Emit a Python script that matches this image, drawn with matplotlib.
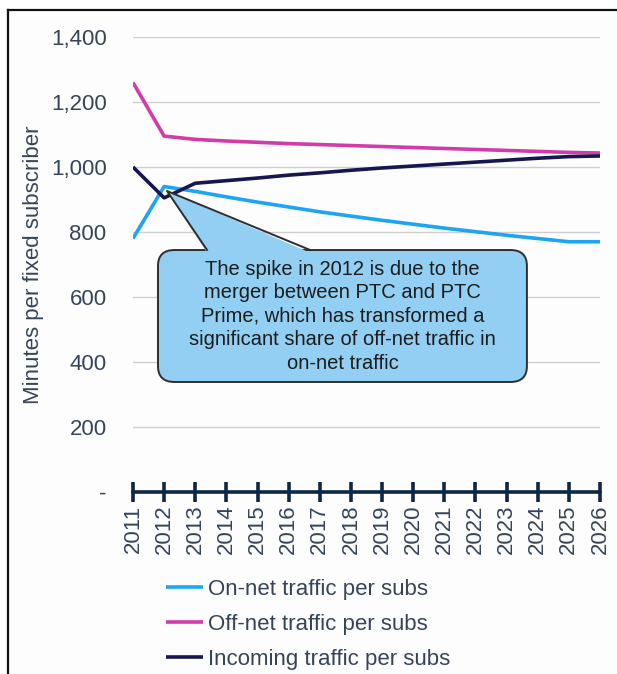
"""Minutes per fixed subscriber, 2011-2026, with the PTC merger callout."""
import matplotlib
matplotlib.use("Agg")
import matplotlib.pyplot as plt
from matplotlib.lines import Line2D
from matplotlib.patches import FancyBboxPatch, Polygon, Rectangle
from matplotlib.ticker import FuncFormatter

years = list(range(2011, 2027))
on_net = [780, 940, 925, 908, 892, 877, 862, 849, 836, 824, 812, 801, 790, 780, 770, 770]
off_net = [1260, 1095, 1085, 1080, 1076, 1072, 1069, 1066, 1063, 1060, 1057, 1054, 1051, 1048, 1045, 1043]
incoming = [1000, 905, 950, 958, 966, 975, 982, 990, 997, 1003, 1009, 1015, 1021, 1027, 1032, 1034]
series_labels = ["On-net traffic per subs", "Off-net traffic per subs", "Incoming traffic per subs"]
series_colors = ["#1ea5f2", "#d23caa", "#17164f"]
y_ticks = [0, 200, 400, 600, 800, 1000, 1200, 1400]
note = ("The spike in 2012 is due to the\nmerger between PTC and PTC\n"
        "Prime, which has transformed a\nsignificant share of off-net traffic in\n"
        "on-net traffic")

TEXT = "#36445a"
AXIS = "#0f2747"
FS = 16

plt.rcParams["font.family"] = ["Liberation Sans", "DejaVu Sans"]

fig = plt.figure(figsize=(6.17, 6.74), dpi=100, facecolor="#fdfdfd")
W, H = 617, 674
ax = fig.add_axes([133 / W, 1 - 492 / H, 467 / W, 455 / H])
ax.set_facecolor("#fdfdfd")

for vals, lab, col in zip([on_net, off_net, incoming], series_labels, series_colors):
    ax.plot(years, vals, color=col, lw=2.6, label=lab, solid_capstyle="butt", zorder=3)

ax.set_xlim(2011, 2026)
ax.set_ylim(0, 1400)
ax.set_yticks(y_ticks)
ax.yaxis.set_major_formatter(FuncFormatter(lambda v, p: "-" if v == 0 else f"{int(v):,}"))
ax.set_xticks(years)
ax.set_xticklabels([str(y) for y in years], rotation=90)

for s in ["top", "right", "left"]:
    ax.spines[s].set_visible(False)
ax.spines["bottom"].set_color(AXIS)
ax.spines["bottom"].set_linewidth(2.6)
ax.spines["bottom"].set_capstyle("round")
ax.tick_params(axis="y", length=0, pad=19, labelsize=FS, labelcolor=TEXT)
ax.tick_params(axis="x", direction="inout", length=14, width=2.6, color=AXIS,
               pad=2, labelsize=FS, labelcolor=TEXT)
for t in ax.xaxis.get_major_ticks():
    t.tick1line.set_clip_on(False)

for y in y_ticks[1:]:
    ax.axhline(y, color="#cfcfcf", lw=1, zorder=1)

ax.set_ylabel("Minutes per fixed subscriber", fontsize=FS, color=TEXT, labelpad=5)

# callout box (axes fraction coords)
box = FancyBboxPatch((0.0535, 0.2418), 0.79, 0.29,
                     boxstyle="round,pad=0,rounding_size=0.035",
                     transform=ax.transAxes, facecolor="#92cff2",
                     edgecolor="#2e2e2e", lw=1.4, zorder=5)
ax.add_patch(box)
tip = (0.0728, 0.6615)
bl = (0.1585, 0.532)
br = (0.379, 0.532)
wedge = Polygon([tip, (bl[0], bl[1] - 0.006), (br[0], br[1] - 0.006)], closed=True,
                transform=ax.transAxes, facecolor="#92cff2", edgecolor="none", zorder=6)
ax.add_patch(wedge)
ax.add_line(Line2D([bl[0], tip[0], br[0]], [bl[1], tip[1], br[1]], transform=ax.transAxes,
                   color="#2e2e2e", lw=1.4, zorder=7))
ax.text(0.4486, 0.386, note, transform=ax.transAxes, ha="center", va="center",
        fontsize=14.5, color="#1c1c1c", linespacing=1.3, zorder=8)

leg = fig.legend(loc="upper left", bbox_to_anchor=(166 / W, 1 - 579 / H), frameon=False,
                 fontsize=FS, handlelength=1.65, handletextpad=0.25, labelspacing=0.62,
                 borderaxespad=0, borderpad=0)
for txt in leg.get_texts():
    txt.set_color(TEXT)

# outer frame
fig.add_artist(Line2D([8 / W, 1], [1 - 10 / H, 1 - 10 / H], transform=fig.transFigure,
                      color="#111111", lw=1.6))
fig.add_artist(Line2D([8 / W, 8 / W], [0, 1 - 10 / H], transform=fig.transFigure,
                      color="#111111", lw=1.6))
fig.patches.append(Rectangle((0, 1 - 10 / H), 1, 10 / H,
                   transform=fig.transFigure, facecolor="white", zorder=-1))
fig.patches.append(Rectangle((0, 0), 8 / W, 1,
                   transform=fig.transFigure, facecolor="white", zorder=-1))

fig.savefig("out.png", dpi=100, facecolor=fig.get_facecolor())
